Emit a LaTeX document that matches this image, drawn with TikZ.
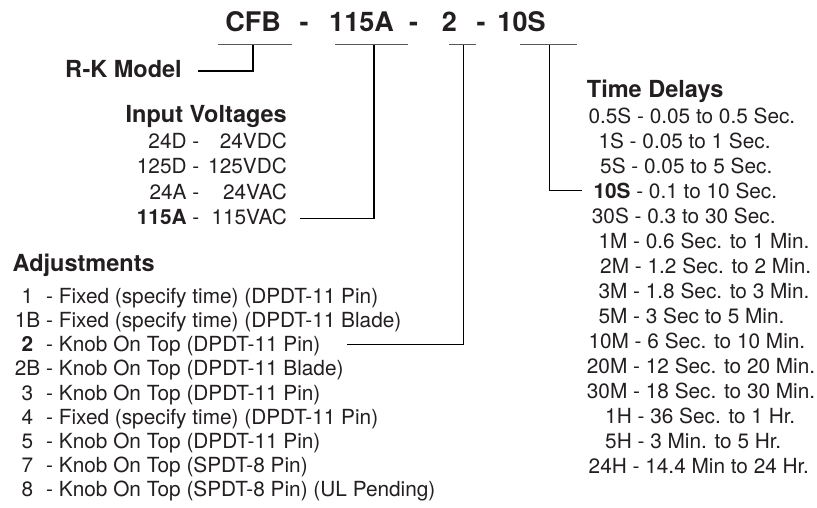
\documentclass[tikz,border=0pt]{standalone}
\usepackage{fontspec}
\setmainfont{TeX Gyre Heros}
\definecolor{ink}{RGB}{35,31,32}
\tikzset{
  row/.style={font=\fontsize{20.8}{25}\selectfont, text=ink, inner sep=0pt, anchor=base west},
  rowe/.style={row, anchor=base east},
  rowc/.style={row, anchor=base},
  head/.style={font=\bfseries\fontsize{23.5}{28}\selectfont, text=ink, inner sep=0pt, anchor=base west},
  ttl/.style={font=\bfseries\fontsize{27}{32}\selectfont, text=ink, inner sep=0pt, anchor=base},
  uline/.style={draw=black!65, line width=1pt},
  conn/.style={draw=black, line width=1pt},
  connb/.style={draw=black, line width=1.5pt},
}
\begin{document}
\begin{tikzpicture}[x=1pt,y=-1pt]
\fill[white] (0,0) rectangle (817,508);
\useasboundingbox (0,0) rectangle (817,508);

% title
\node[ttl] (t1) at (253,32) {CFB};
\node[ttl] (d1) at (304,32) {-};
\node[ttl] (t2) at (361.5,32) {115A};
\node[ttl] (d2) at (413.5,32) {-};
\node[ttl] (t3) at (449.5,32) {2};
\node[ttl] (d3) at (481,32) {-};
\node[ttl] (t4) at (521.5,32) {10S};

% underlines
\coordinate (u1a) at (218,45); \coordinate (u1b) at (292,45); \coordinate (u1) at (253,45);
\coordinate (u2a) at (335,45); \coordinate (u2b) at (408,45); \coordinate (u2) at (374,45);
\coordinate (u3a) at (449,45); \coordinate (u3b) at (476,45); \coordinate (u3) at (463,45);
\coordinate (u4a) at (520,45); \coordinate (u4b) at (577,45); \coordinate (u4) at (549,45);
\draw[uline] (u1a) -- (u1b);
\draw[uline] (u2a) -- (u2b);
\draw[uline] (u3a) -- (u3b);
\draw[uline] (u4a) -- (u4b);

% R-K model
\node[head] (rk) at (65,77.3) {R-K Model};
\coordinate (rkend) at (198,71);
\draw[connb] (u1) |- (rkend);

% Input voltages
\node[head, anchor=base east] (iv) at (287,122.5) {Input Voltages};
\node[rowe] (v1c) at (199.5,148.3) {24D -};        \node[rowe] (v1v) at (287,148.3) {24VDC};
\node[rowe] (v2c) at (199.5,173.5) {125D -};       \node[rowe] (v2v) at (287,173.5) {125VDC};
\node[rowe] (v3c) at (199.5,199.5) {24A -};        \node[rowe] (v3v) at (287,199.5) {24VAC};
\node[rowe] (v4c) at (199.5,224.8) {\textbf{115A} -}; \node[rowe] (v4v) at (287,224.8) {115VAC};
\coordinate (v4end) at (300,218.5);
\draw[connb] (u2) |- (v4end);

% Adjustments
\node[head] (adj) at (12.5,271.7) {Adjustments};
\foreach \code/\txt [count=\i] in {
  1/{- Fixed (specify time) (DPDT-11 Pin)},
  1B/{- Fixed (specify time) (DPDT-11 Blade)},
  \textbf{2}/{- Knob On Top (DPDT-11 Pin)},
  2B/{- Knob On Top (DPDT-11 Blade)},
  3/{- Knob On Top (DPDT-11 Pin)},
  4/{- Fixed (specify time) (DPDT-11 Pin)},
  5/{- Knob On Top (DPDT-11 Pin)},
  7/{- Knob On Top (SPDT-8 Pin)},
  8/{- Knob On Top (SPDT-8 Pin) (UL Pending)}}{
  \node[rowc] (ac\i) at (27.5,{303.3+(\i-1)*24.2}) {\code};
  \node[row] (at\i) at (46,{303.3+(\i-1)*24.2}) {\txt};
}
\coordinate (a3end) at (347,344.5);
\draw[conn] (u3) |- (a3end);

% Time delays
\node[head] (td) at (586.7,98) {Time Delays};
\foreach \xx/\txt [count=\i] in {
  588.3/{0.5S - 0.05 to 0.5 Sec.},
  598.3/{1S - 0.05 to 1 Sec.},
  600/{5S - 0.05 to 5 Sec.},
  593.3/{\textbf{10S} - 0.1 to 10 Sec.},
  591.7/{30S - 0.3 to 30 Sec.},
  598.3/{1M - 0.6 Sec. to 1 Min.},
  600/{2M - 1.2 Sec. to 2 Min.},
  598.3/{3M - 1.8 Sec. to 3 Min.},
  598.3/{5M - 3 Sec to 5 Min.},
  588.3/{10M - 6 Sec. to 10 Min.},
  586.7/{20M - 12 Sec. to 20 Min.},
  586.7/{30M - 18 Sec. to 30 Min.},
  605/{1H - 36 Sec. to 1 Hr.},
  605/{5H - 3 Min. to 5 Hr.},
  588.5/{24H - 14.4 Min to 24 Hr.}}{
  \node[row] (tr\i) at (\xx,{123.5+(\i-1)*25}) {\txt};
}
\coordinate (tend) at (582,191);
\draw[conn] (u4) |- (tend);
\end{tikzpicture}
\end{document}
